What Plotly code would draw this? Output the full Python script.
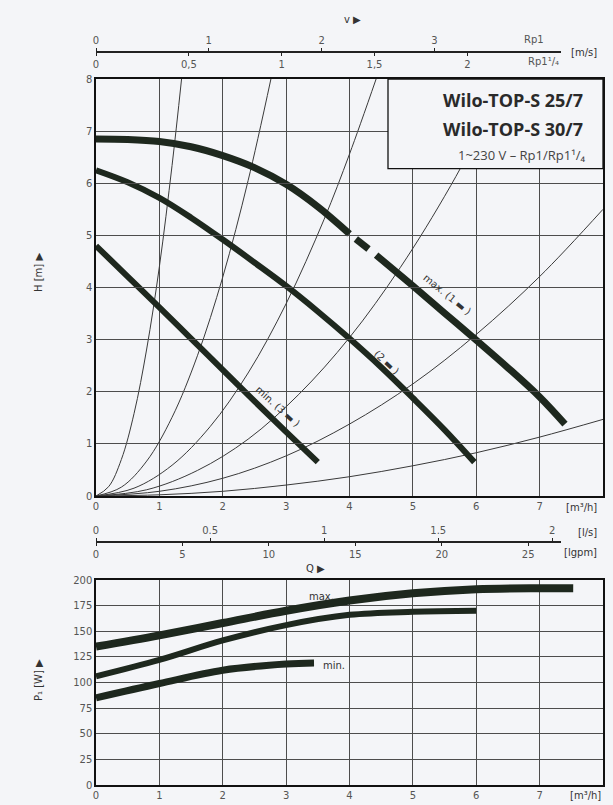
import plotly.graph_objects as go

# ---------------- data ----------------
# pump curves H [m] vs Q [m3/h]  (None = visible gap in the printed curve)
q_max = [0, 0.5, 1, 1.5, 2, 2.5, 3, 3.5, 4.0, None, 4.1, 4.3, None, 4.42, 5, 5.5, 6, 6.5, 7, 7.4]
h_max = [6.85, 6.84, 6.8, 6.7, 6.53, 6.3, 5.98, 5.55, 5.03, None, 4.93, 4.74, None, 4.62, 4.03, 3.51, 2.99, 2.46, 1.9, 1.38]
q_mid = [0, 0.5, 1, 1.5, 2, 2.5, 3, 3.5, 4, 4.5, 5, 5.5, 5.97]
h_mid = [6.25, 6.02, 5.72, 5.34, 4.92, 4.48, 4.03, 3.54, 3.02, 2.47, 1.88, 1.27, 0.65]
q_min = [0, 0.5, 1, 1.5, 2, 2.5, 3, 3.5]
h_min = [4.8, 4.21, 3.62, 3.02, 2.42, 1.82, 1.23, 0.65]

# thin system curves through the origin
sys_q = [
    [0, 0.2, 0.4, 0.6, 0.8, 1.0, 1.2, 1.35],
    [0, 0.4, 0.8, 1.2, 1.6, 2.0, 2.4, 2.76],
    [0, 0.6, 1.2, 1.8, 2.4, 3.0, 3.6, 4.0, 4.42],
    [0, 0.8, 1.6, 2.4, 3.2, 4.0, 4.8, 5.6, 6.49],
    [0, 1, 2, 3, 4, 5, 6, 7, 8],
    [0, 1, 2, 3, 4, 5, 6, 7, 8],
]
sys_h = [
    [0, 0.18, 0.70, 1.58, 2.82, 4.4, 6.34, 8.0],
    [0, 0.17, 0.67, 1.51, 2.69, 4.2, 6.05, 8.0],
    [0, 0.15, 0.59, 1.33, 2.36, 3.69, 5.31, 6.56, 8.0],
    [0, 0.12, 0.49, 1.09, 1.95, 3.04, 4.38, 5.96, 8.0],
    [0, 0.09, 0.34, 0.77, 1.38, 2.15, 3.1, 4.21, 5.5],
    [0, 0.023, 0.09, 0.21, 0.37, 0.58, 0.83, 1.13, 1.47],
]

# power curves P1 [W] vs Q [m3/h]
qp_max = [0, 1, 2, 3, 4, 5, 6, 7, 7.53]
p_max = [135, 146, 158, 170, 180, 187, 191, 192, 192]
qp_mid = [0, 1, 2, 3, 4, 5, 6]
p_mid = [106, 122, 141, 156, 166, 169, 170]
qp_min = [0, 1, 2, 3, 3.44]
p_min = [85, 99, 112, 118, 119]

# tick labels
q_ticks = [0, 1, 2, 3, 4, 5, 6, 7]
h_ticks = [0, 1, 2, 3, 4, 5, 6, 7, 8]
p_ticks = [0, 25, 50, 75, 100, 125, 150, 175, 200]
v_rp1_ticks = [0, 1, 2, 3]
v_rp114_ticks = [0, 0.5, 1, 1.5, 2]
v_rp114_text = ["0", "0,5", "1", "1,5", "2"]
ls_ticks = [0, 0.5, 1, 1.5, 2]
ls_text = ["0", "0.5", "1", "1.5", "2"]
gpm_ticks = [0, 5, 10, 15, 20, 25]

# unit conversions (m3/h per unit of the secondary scale)
Q_PER_MS_RP1 = 1.78
Q_PER_MS_RP114 = 2.93
Q_PER_LS = 3.6
Q_PER_IGPM = 0.27277

# ---------------- layout geometry ----------------
W, H = 613, 805
ML, MR, MT, MB = 96, 10, 30, 20
PW, PH = W - ML - MR, H - MT - MB


def px(xp):
    return (xp - ML) / PW


def py(yp):
    return (H - MB - yp) / PH


top_dom = [py(496), py(79)]
bot_dom = [0, py(580)]
scale_end = px(561)
q_end = 8 * scale_end

CURVE = "#1e281e"
GRID = "#4d4d4d"
TXT = "#555555"
FONT = "DejaVu Sans"
BG = "#f4f5f8"

fig = go.Figure()

for qs, hs in zip(sys_q, sys_h):
    fig.add_trace(go.Scatter(x=qs, y=hs, mode="lines", line=dict(color="#3a3a3a", width=1, shape="spline", smoothing=1),
                             xaxis="x", yaxis="y", showlegend=False, hoverinfo="skip"))

fig.add_trace(go.Scatter(x=q_max, y=h_max, mode="lines", line=dict(color=CURVE, width=7, shape="spline", smoothing=1),
                         connectgaps=False, xaxis="x", yaxis="y", showlegend=False))
fig.add_trace(go.Scatter(x=q_mid, y=h_mid, mode="lines", line=dict(color=CURVE, width=6, shape="spline", smoothing=1),
                         xaxis="x", yaxis="y", showlegend=False))
fig.add_trace(go.Scatter(x=q_min, y=h_min, mode="lines", line=dict(color=CURVE, width=6, shape="spline", smoothing=1),
                         xaxis="x", yaxis="y", showlegend=False))

fig.add_trace(go.Scatter(x=qp_max, y=p_max, mode="lines", line=dict(color=CURVE, width=8, shape="spline", smoothing=1),
                         xaxis="x2", yaxis="y2", showlegend=False))
fig.add_trace(go.Scatter(x=qp_mid, y=p_mid, mode="lines", line=dict(color=CURVE, width=6, shape="spline", smoothing=1),
                         xaxis="x2", yaxis="y2", showlegend=False))
fig.add_trace(go.Scatter(x=qp_min, y=p_min, mode="lines", line=dict(color=CURVE, width=7, shape="spline", smoothing=1),
                         xaxis="x2", yaxis="y2", showlegend=False))

# dummy traces so the secondary scales are drawn
for ax in ["x3", "x4", "x5", "x6"]:
    fig.add_trace(go.Scatter(x=[None], y=[None], mode="lines", xaxis=ax, yaxis="y", showlegend=False, hoverinfo="skip"))

tickfont = dict(family=FONT, size=10, color=TXT)
main_ax = dict(showgrid=True, gridcolor=GRID, gridwidth=1, showline=True, linecolor="#111", linewidth=1.5,
               mirror=True, ticks="", zeroline=False, tickfont=tickfont, automargin=False)

sec_ax = dict(anchor="free", domain=[0, scale_end], showgrid=False, zeroline=False, showline=True,
              linecolor="#222", linewidth=2, ticks="outside", ticklen=3, tickcolor="#222", tickfont=tickfont,
              automargin=False)

fig.update_layout(
    width=W, height=H,
    margin=dict(l=ML, r=MR, t=MT, b=MB, autoexpand=False),
    paper_bgcolor=BG, plot_bgcolor="rgba(0,0,0,0)",
    font=dict(family=FONT, color=TXT),
    xaxis=dict(main_ax, domain=[0, 1], range=[0, 8], anchor="y", tickvals=q_ticks),
    yaxis=dict(main_ax, domain=top_dom, range=[0, 8], anchor="x", tickvals=h_ticks),
    xaxis2=dict(main_ax, domain=[0, 1], range=[0, 8], anchor="y2", tickvals=q_ticks),
    yaxis2=dict(main_ax, domain=bot_dom, range=[0, 200], anchor="x2", tickvals=p_ticks),
    xaxis3=dict(sec_ax, position=py(52), side="top", range=[0, q_end / Q_PER_MS_RP1], tickvals=v_rp1_ticks),
    xaxis4=dict(sec_ax, position=py(52), side="bottom", range=[0, q_end / Q_PER_MS_RP114],
                tickvals=v_rp114_ticks, ticktext=v_rp114_text),
    xaxis5=dict(sec_ax, position=py(542), side="top", range=[0, q_end / Q_PER_LS], tickvals=ls_ticks, ticktext=ls_text),
    xaxis6=dict(sec_ax, position=py(542), side="bottom", range=[0, q_end / Q_PER_IGPM], tickvals=gpm_ticks),
)

# title box
fig.add_shape(type="rect", xref="x", yref="y", x0=(388 - 96) / 63.375, x1=8, y0=6.28, y1=8,
              fillcolor=BG, line=dict(color="#111", width=1.3), layer="above")

ann = []
title_font = dict(family="Open Sans", size=18, color="#2a2a2a")
ann.append(dict(x=7.72, y=7.6, xref="x", yref="y", text="<b>Wilo-TOP-S 25/7</b>", showarrow=False,
                xanchor="right", font=title_font))
ann.append(dict(x=7.72, y=7.05, xref="x", yref="y", text="<b>Wilo-TOP-S 30/7</b>", showarrow=False,
                xanchor="right", font=title_font))
ann.append(dict(x=7.75, y=6.55, xref="x", yref="y", text="1~230 V – Rp1/Rp1¹/₄", showarrow=False,
                xanchor="right", font=dict(family="Open Sans", size=13, color="#444")))

lab_font = dict(family=FONT, size=10, color="#333")
ann.append(dict(x=5.54, y=3.86, xref="x", yref="y", text="max. (1 ▬ )", textangle=39, showarrow=False, font=lab_font))
ann.append(dict(x=4.59, y=2.57, xref="x", yref="y", text="(2 ▬ )", textangle=43, showarrow=False, font=lab_font))
ann.append(dict(x=2.87, y=1.71, xref="x", yref="y", text="min. (3 ▬ )", textangle=42, showarrow=False, font=lab_font))

ann.append(dict(x=3.33, y=184, xref="x2", yref="y2", text="max.", xanchor="left", showarrow=False, font=lab_font))
ann.append(dict(x=3.55, y=117, xref="x2", yref="y2", text="min.", xanchor="left", showarrow=False, font=lab_font))

unit_font = dict(family=FONT, size=10, color="#333")


def pann(xp, yp, text, xanchor="center", angle=0, font=unit_font):
    ann.append(dict(x=px(xp), y=py(yp), xref="paper", yref="paper", text=text, showarrow=False,
                    xanchor=xanchor, yanchor="middle", textangle=angle, font=font))


pann(352, 20, "v ▶")
pann(546, 40, "Rp1", "right", font=tickfont)
pann(561, 62, "Rp1¹/₄", "right", font=tickfont)
pann(599, 52, "[m/s]", "right")
pann(599, 507, "[m³/h]", "right")
pann(599, 532, "[l/s]", "right")
pann(599, 552, "[lgpm]", "right")
pann(315, 568, "Q ▶")
pann(603, 795, "[m³/h]", "right")
pann(38, 273, "H [m] ▶", angle=-90)
pann(38, 680, "P₁ [W] ▶", angle=-90)

fig.update_layout(annotations=ann)
fig.write_html(
    "out.html",
    config={"displayModeBar": False},
    post_script="document.body.style.margin='0';document.body.style.padding='0';"
                "document.body.style.overflow='hidden';document.body.style.background='" + BG + "';",
)
